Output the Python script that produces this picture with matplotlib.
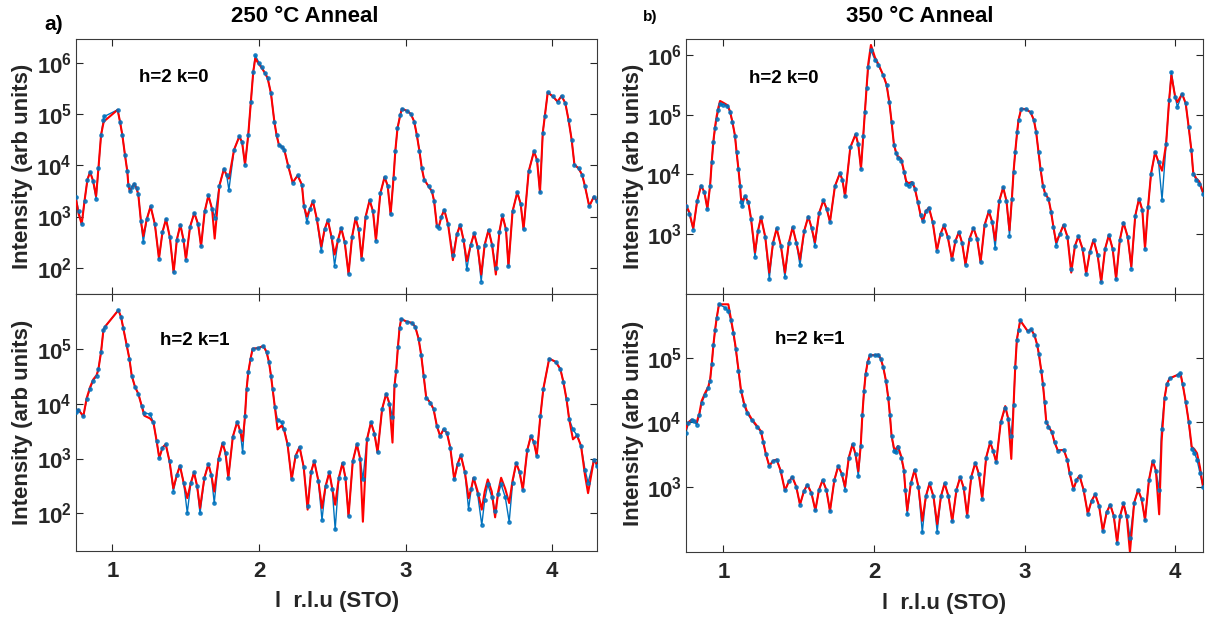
import numpy as np
import matplotlib
matplotlib.use("Agg")
import matplotlib.pyplot as plt
from matplotlib.ticker import FuncFormatter, NullLocator, FixedLocator

plt.rcParams['font.family'] = ['Liberation Sans', 'DejaVu Sans']
plt.rcParams['font.weight'] = 'bold'
plt.rcParams['mathtext.fontset'] = 'custom'
plt.rcParams['mathtext.rm'] = 'Liberation Sans:bold'
plt.rcParams['mathtext.bf'] = 'Liberation Sans:bold'
plt.rcParams['mathtext.it'] = 'Liberation Sans:bold'

# ---------------- data (l in r.l.u, intensity as log10) ----------------
# Panel a) 250 C anneal, h=2 k=0
l_250_k0 = [0.752, 0.770, 0.791, 0.810, 0.830, 0.848, 0.868, 0.889, 0.905, 0.923, 0.939, 0.945,
            1.036, 1.052, 1.068, 1.086, 1.102, 1.109, 1.120, 1.135, 1.150, 1.165, 1.177, 1.195,
            1.211, 1.235, 1.261, 1.290, 1.318, 1.342, 1.366, 1.392, 1.418, 1.440, 1.464, 1.485,
            1.502, 1.530, 1.559, 1.585, 1.605, 1.630, 1.655, 1.680, 1.698, 1.730, 1.761, 1.780,
            1.795, 1.830, 1.866, 1.885, 1.905, 1.927, 1.945, 1.961, 1.975, 2.000, 2.018, 2.040,
            2.059, 2.082, 2.105, 2.120, 2.136, 2.160, 2.173, 2.200, 2.230, 2.264, 2.293, 2.307,
            2.327, 2.348, 2.368, 2.395, 2.425, 2.448, 2.470, 2.495, 2.516, 2.540, 2.561, 2.585,
            2.611, 2.635, 2.659, 2.680, 2.700, 2.728, 2.755, 2.778, 2.798, 2.828, 2.857, 2.878,
            2.898, 2.918, 2.930, 2.945, 2.964, 2.975, 3.009, 3.036, 3.059, 3.077, 3.095, 3.111,
            3.127, 3.157, 3.180, 3.195, 3.214, 3.225, 3.245, 3.264, 3.290, 3.323, 3.350, 3.373,
            3.395, 3.418, 3.445, 3.468, 3.492, 3.516, 3.540, 3.566, 3.590, 3.616, 3.640, 3.661,
            3.685, 3.702, 3.730, 3.762, 3.785, 3.805, 3.840, 3.876, 3.897, 3.917, 3.936, 3.950,
            3.970, 4.005, 4.037, 4.064, 4.090, 4.112, 4.133, 4.152, 4.180, 4.205, 4.224, 4.253,
            4.285, 4.305]
data_250_k0 = [3.38, 3.10, 2.86, 3.30, 3.72, 3.87, 3.70, 3.34, 3.94, 4.59, 4.88, 4.95,
               5.08, 4.85, 4.59, 4.20, 3.88, 3.62, 3.49, 3.58, 3.64, 3.55, 3.43, 2.91,
               2.50, 2.95, 3.20, 2.85, 2.18, 2.70, 2.95, 2.60, 1.91, 2.55, 2.84, 2.55,
               2.16, 2.80, 3.07, 2.85, 2.42, 3.10, 3.41, 3.15, 2.98, 3.60, 3.93, 3.80,
               3.52, 4.30, 4.56, 4.45, 4.01, 4.59, 5.24, 5.82, 6.14, 6.00, 5.92, 5.80,
               5.70, 5.40, 4.85, 4.59, 4.40, 4.35, 4.30, 3.98, 3.66, 3.80, 3.62, 3.20,
               2.89, 3.15, 3.30, 2.95, 2.32, 2.75, 2.93, 2.60, 2.04, 2.55, 2.78, 2.50,
               1.88, 2.60, 2.97, 2.75, 2.18, 3.00, 3.32, 3.10, 2.53, 3.45, 3.77, 3.60,
               3.04, 3.75, 4.27, 4.72, 4.98, 5.10, 5.06, 5.00, 4.85, 4.59, 4.27, 3.94,
               3.72, 3.59, 3.49, 3.30, 2.81, 2.78, 3.00, 3.13, 2.85, 2.25, 2.65, 2.84,
               2.55, 1.97, 2.45, 2.67, 2.40, 1.73, 2.45, 2.74, 2.45, 2.00, 2.70, 3.02,
               2.75, 2.03, 3.10, 3.47, 3.25, 2.75, 3.88, 4.27, 4.10, 3.47, 4.63, 4.95,
               5.42, 5.34, 5.24, 5.35, 5.21, 4.88, 4.50, 4.01, 3.94, 3.81, 3.59, 3.20,
               3.39, 3.30]
fit_250_k0 = [3.33, 3.05, 2.85, 3.30, 3.72, 3.87, 3.70, 3.40, 3.94, 4.59, 4.82, 4.86,
              5.08, 4.85, 4.59, 4.20, 3.88, 3.62, 3.49, 3.58, 3.64, 3.55, 3.43, 2.91,
              2.62, 2.95, 3.20, 2.85, 2.18, 2.70, 2.95, 2.60, 1.91, 2.55, 2.84, 2.55,
              2.16, 2.80, 3.07, 2.85, 2.42, 3.10, 3.41, 3.15, 2.57, 3.60, 3.93, 3.80,
              3.74, 4.30, 4.56, 4.45, 4.01, 4.59, 5.24, 5.82, 6.08, 5.97, 5.90, 5.80,
              5.70, 5.40, 4.85, 4.59, 4.40, 4.35, 4.30, 3.98, 3.66, 3.80, 3.62, 3.20,
              3.00, 3.15, 3.30, 2.95, 2.42, 2.75, 2.93, 2.60, 2.26, 2.55, 2.78, 2.50,
              1.88, 2.60, 2.97, 2.75, 2.18, 3.00, 3.32, 3.10, 2.53, 3.45, 3.77, 3.60,
              3.04, 3.75, 4.27, 4.72, 4.98, 5.10, 5.06, 5.00, 4.85, 4.59, 4.27, 3.94,
              3.72, 3.59, 3.49, 3.30, 2.81, 2.78, 3.00, 3.13, 2.85, 2.15, 2.65, 2.84,
              2.55, 2.13, 2.45, 2.67, 2.40, 1.87, 2.45, 2.74, 2.45, 1.87, 2.70, 3.02,
              2.75, 2.03, 3.10, 3.47, 3.25, 2.75, 3.88, 4.27, 4.10, 3.47, 4.63, 4.95,
              5.42, 5.34, 5.24, 5.35, 5.21, 4.88, 4.50, 4.01, 3.94, 3.81, 3.59, 3.20,
              3.39, 3.30]

# Panel a) lower: 250 C anneal, h=2 k=1
l_250_k1 = [0.752, 0.768, 0.802, 0.825, 0.848, 0.870, 0.893, 0.905, 0.923, 0.939, 0.950,
            1.041, 1.059, 1.075, 1.098, 1.116, 1.132, 1.155, 1.177, 1.200, 1.218, 1.257,
            1.280, 1.302, 1.320, 1.342, 1.364, 1.390, 1.416, 1.440, 1.461, 1.487, 1.511,
            1.535, 1.557, 1.578, 1.598, 1.628, 1.655, 1.675, 1.695, 1.725, 1.752, 1.772,
            1.791, 1.822, 1.852, 1.872, 1.889, 1.905, 1.916, 1.927, 1.943, 1.957, 1.995,
            2.030, 2.052, 2.068, 2.082, 2.093, 2.109, 2.127, 2.155, 2.173, 2.195, 2.223,
            2.250, 2.277, 2.305, 2.332, 2.355, 2.377, 2.405, 2.430, 2.455, 2.480, 2.500,
            2.520, 2.545, 2.570, 2.590, 2.611, 2.640, 2.668, 2.690, 2.709, 2.737, 2.764,
            2.788, 2.809, 2.840, 2.868, 2.890, 2.911, 2.925, 2.936, 2.948, 2.959, 2.970,
            3.009, 3.043, 3.066, 3.089, 3.107, 3.123, 3.141, 3.168, 3.191, 3.214, 3.236,
            3.259, 3.282, 3.305, 3.332, 3.355, 3.377, 3.405, 3.430, 3.448, 3.464, 3.492,
            3.520, 3.540, 3.561, 3.588, 3.611, 3.632, 3.652, 3.680, 3.707, 3.730, 3.755,
            3.778, 3.800, 3.830, 3.855, 3.875, 3.895, 3.920, 3.940, 3.980, 4.024, 4.056,
            4.077, 4.098, 4.116, 4.142, 4.170, 4.197, 4.224, 4.245, 4.285, 4.305]
data_250_k1 = [3.85, 3.89, 3.77, 4.08, 4.27, 4.42, 4.50, 4.63, 4.94, 5.34, 5.40,
               5.70, 5.58, 5.37, 5.06, 4.82, 4.51, 4.30, 4.18, 3.96, 3.83, 3.81,
               3.66, 3.32, 3.01, 3.20, 3.26, 2.95, 2.40, 2.70, 2.87, 2.55, 2.01,
               2.55, 2.75, 2.50, 2.00, 2.65, 2.90, 2.70, 2.19, 3.00, 3.28, 3.10,
               2.65, 3.40, 3.67, 3.50, 3.11, 3.78, 4.27, 4.57, 4.82, 5.00, 5.01,
               5.05, 4.94, 4.76, 4.51, 4.27, 3.93, 3.70, 3.66, 3.53, 3.26, 2.62,
               3.05, 3.21, 2.85, 2.13, 2.75, 2.95, 2.60, 1.88, 2.50, 2.75, 2.45,
               1.71, 2.65, 2.92, 2.65, 1.95, 2.95, 3.26, 3.00, 2.62, 3.35, 3.66,
               3.45, 3.11, 3.90, 4.18, 4.00, 3.75, 4.33, 4.60, 5.03, 5.37, 5.54,
               5.49, 5.47, 5.40, 5.18, 4.88, 4.51, 4.11, 4.02, 3.90, 3.59, 3.41,
               3.53, 3.47, 3.20, 2.62, 2.90, 3.06, 2.75, 2.08, 2.45, 2.65, 2.35,
               1.79, 2.25, 2.53, 2.30, 2.04, 2.35, 2.53, 2.30, 1.85, 2.55, 2.92,
               2.75, 2.43, 3.15, 3.41, 3.30, 3.05, 3.78, 4.27, 4.82, 4.76, 4.63,
               4.39, 4.08, 3.72, 3.53, 3.42, 3.23, 2.80, 2.56, 2.98, 2.86]
fit_250_k1 = [3.85, 3.89, 3.77, 4.10, 4.30, 4.44, 4.52, 4.63, 4.94, 5.34, 5.40,
              5.70, 5.58, 5.37, 5.06, 4.82, 4.51, 4.30, 4.18, 3.96, 3.78, 3.73,
              3.66, 3.32, 3.01, 3.20, 3.26, 2.95, 2.46, 2.70, 2.87, 2.55, 2.28,
              2.55, 2.75, 2.50, 2.10, 2.65, 2.90, 2.70, 2.40, 3.00, 3.28, 3.10,
              2.65, 3.40, 3.67, 3.50, 3.32, 3.78, 4.27, 4.57, 4.82, 5.00, 5.01,
              5.05, 4.94, 4.76, 4.51, 4.27, 3.93, 3.53, 3.60, 3.50, 3.26, 2.62,
              3.05, 3.21, 2.85, 2.07, 2.75, 2.95, 2.60, 2.10, 2.50, 2.75, 2.45,
              2.16, 2.65, 2.92, 2.65, 1.95, 2.95, 3.26, 3.00, 1.85, 3.35, 3.66,
              3.45, 3.11, 3.90, 4.18, 4.00, 3.29, 4.33, 4.60, 5.03, 5.37, 5.54,
              5.49, 5.47, 5.40, 5.18, 4.88, 4.51, 4.11, 4.02, 3.90, 3.59, 3.41,
              3.53, 3.47, 3.20, 2.62, 2.90, 3.06, 2.75, 2.28, 2.45, 2.65, 2.40,
              2.07, 2.40, 2.62, 2.40, 1.93, 2.40, 2.65, 2.45, 2.19, 2.60, 2.92,
              2.75, 2.43, 3.15, 3.41, 3.30, 3.05, 3.78, 4.27, 4.82, 4.76, 4.63,
              4.39, 4.08, 3.72, 3.35, 3.42, 3.23, 2.70, 2.37, 2.98, 2.90]

# Panel b) 350 C anneal, h=2 k=0
l_350_k0 = [0.752, 0.774, 0.800, 0.826, 0.852, 0.874, 0.894, 0.912, 0.923, 0.934, 0.945,
            0.956, 0.967, 0.978, 1.000, 1.027, 1.044, 1.060, 1.077, 1.088, 1.100, 1.111,
            1.117, 1.126, 1.144, 1.166, 1.184, 1.210, 1.230, 1.250, 1.278, 1.305, 1.330,
            1.354, 1.382, 1.409, 1.435, 1.460, 1.485, 1.509, 1.537, 1.564, 1.586, 1.608,
            1.636, 1.664, 1.686, 1.708, 1.741, 1.774, 1.791, 1.808, 1.843, 1.878, 1.896,
            1.914, 1.929, 1.940, 1.951, 1.962, 1.980, 2.007, 2.029, 2.062, 2.084, 2.102,
            2.117, 2.133, 2.146, 2.159, 2.181, 2.199, 2.215, 2.230, 2.252, 2.270, 2.292,
            2.310, 2.325, 2.345, 2.365, 2.390, 2.418, 2.442, 2.465, 2.490, 2.518, 2.541,
            2.564, 2.585, 2.608, 2.635, 2.661, 2.685, 2.708, 2.735, 2.763, 2.785, 2.805,
            2.832, 2.858, 2.880, 2.900, 2.916, 2.927, 2.938, 2.951, 2.960, 2.978, 3.011,
            3.040, 3.062, 3.077, 3.093, 3.106, 3.122, 3.137, 3.159, 3.177, 3.192, 3.210,
            3.235, 3.259, 3.285, 3.310, 3.335, 3.358, 3.385, 3.409, 3.434, 3.458, 3.485,
            3.509, 3.535, 3.560, 3.585, 3.608, 3.633, 3.657, 3.685, 3.709, 3.735, 3.760,
            3.782, 3.800, 3.820, 3.840, 3.867, 3.890, 3.913, 3.940, 3.960, 3.975, 4.000,
            4.015, 4.046, 4.070, 4.090, 4.108, 4.120, 4.140, 4.160, 4.185]
data_350_k0 = [3.46, 3.34, 3.07, 3.55, 3.81, 3.70, 3.42, 3.81, 4.21, 4.54, 4.77,
               4.93, 5.07, 5.18, 5.17, 5.14, 5.05, 4.88, 4.65, 4.37, 4.09, 3.81,
               3.53, 3.46, 3.63, 3.53, 3.25, 2.61, 3.05, 3.28, 2.95, 2.24, 2.85,
               3.09, 2.80, 2.27, 2.85, 3.11, 2.85, 2.47, 3.05, 3.29, 3.10, 2.79,
               3.35, 3.56, 3.42, 3.20, 3.80, 4.02, 3.90, 3.63, 4.45, 4.67, 4.50,
               4.09, 4.65, 5.05, 5.44, 5.80, 6.08, 5.92, 5.83, 5.66, 5.50, 5.21,
               4.88, 4.49, 4.35, 4.27, 4.23, 4.04, 3.84, 3.80, 3.85, 3.76, 3.53,
               3.31, 3.21, 3.38, 3.44, 3.20, 2.72, 3.00, 3.14, 2.95, 2.57, 2.88,
               3.03, 2.85, 2.48, 2.92, 3.10, 2.92, 2.52, 3.15, 3.38, 3.20, 2.76,
               3.55, 3.78, 3.55, 2.97, 3.59, 4.04, 4.37, 4.71, 4.91, 5.10, 5.09,
               5.04, 4.91, 4.71, 4.37, 4.09, 3.81, 3.67, 3.59, 3.36, 3.11, 2.80,
               3.00, 3.15, 2.95, 2.41, 2.80, 2.96, 2.75, 2.33, 2.70, 2.90, 2.65,
               2.19, 2.75, 2.98, 2.75, 2.24, 2.90, 3.19, 2.95, 2.41, 3.30, 3.59,
               3.40, 2.75, 3.45, 4.01, 4.37, 4.20, 3.57, 4.51, 5.24, 5.72, 5.30,
               5.13, 5.35, 5.19, 4.79, 4.40, 4.01, 3.90, 3.84, 3.67]
fit_350_k0 = [3.49, 3.36, 3.09, 3.55, 3.81, 3.70, 3.42, 3.81, 4.21, 4.56, 4.80,
              4.98, 5.12, 5.23, 5.20, 5.16, 5.06, 4.88, 4.65, 4.37, 4.09, 3.81,
              3.60, 3.55, 3.63, 3.53, 3.25, 2.69, 3.05, 3.28, 2.95, 2.35, 2.85,
              3.09, 2.80, 2.35, 2.85, 3.11, 2.85, 2.57, 3.05, 3.29, 3.10, 2.86,
              3.35, 3.56, 3.42, 3.20, 3.80, 4.02, 3.90, 3.63, 4.45, 4.67, 4.50,
              4.09, 4.65, 5.05, 5.44, 5.85, 6.17, 5.96, 5.85, 5.66, 5.50, 5.21,
              4.88, 4.49, 4.38, 4.30, 4.26, 4.06, 3.88, 3.85, 3.87, 3.78, 3.53,
              3.31, 3.21, 3.38, 3.44, 3.20, 2.72, 3.00, 3.14, 2.95, 2.57, 2.88,
              3.03, 2.85, 2.48, 2.92, 3.10, 2.92, 2.52, 3.15, 3.38, 3.20, 2.89,
              3.55, 3.78, 3.55, 3.06, 3.59, 4.04, 4.37, 4.71, 4.91, 5.10, 5.09,
              5.04, 4.91, 4.71, 4.37, 4.09, 3.81, 3.67, 3.59, 3.36, 3.11, 2.86,
              3.00, 3.15, 2.95, 2.35, 2.80, 2.96, 2.75, 2.33, 2.70, 2.90, 2.65,
              2.19, 2.75, 2.98, 2.75, 2.24, 2.90, 3.19, 2.95, 2.45, 3.30, 3.59,
              3.40, 2.75, 3.45, 4.01, 4.37, 4.20, 4.06, 4.51, 5.24, 5.66, 5.30,
              5.21, 5.35, 5.19, 4.79, 4.40, 4.03, 3.93, 3.88, 3.70]

# Panel b) lower: 350 C anneal, h=2 k=1
l_350_k1 = [0.752, 0.768, 0.790, 0.805, 0.823, 0.841, 0.856, 0.878, 0.900, 0.912, 0.923,
            0.934, 0.945, 0.956, 0.971, 1.011, 1.033, 1.049, 1.066, 1.082, 1.100, 1.117,
            1.137, 1.155, 1.188, 1.221, 1.250, 1.265, 1.283, 1.305, 1.330, 1.354, 1.380,
            1.409, 1.435, 1.458, 1.484, 1.509, 1.535, 1.558, 1.585, 1.611, 1.635, 1.659,
            1.684, 1.708, 1.737, 1.763, 1.786, 1.808, 1.833, 1.858, 1.878, 1.896, 1.912,
            1.923, 1.934, 1.945, 1.958, 1.973, 2.007, 2.029, 2.046, 2.062, 2.080, 2.095,
            2.106, 2.117, 2.133, 2.146, 2.159, 2.181, 2.199, 2.208, 2.221, 2.245, 2.270,
            2.295, 2.321, 2.345, 2.369, 2.395, 2.420, 2.445, 2.469, 2.495, 2.520, 2.548,
            2.573, 2.596, 2.619, 2.646, 2.673, 2.696, 2.719, 2.745, 2.772, 2.792, 2.812,
            2.842, 2.872, 2.892, 2.912, 2.927, 2.938, 2.949, 2.960, 2.971, 3.022, 3.044,
            3.066, 3.084, 3.095, 3.111, 3.122, 3.133, 3.144, 3.159, 3.181, 3.199, 3.221,
            3.261, 3.283, 3.299, 3.325, 3.345, 3.365, 3.392, 3.420, 3.445, 3.469, 3.495,
            3.520, 3.545, 3.569, 3.592, 3.615, 3.635, 3.657, 3.680, 3.700, 3.728, 3.754,
            3.778, 3.800, 3.826, 3.851, 3.872, 3.894, 3.910, 3.930, 3.945, 3.963, 4.022,
            4.035, 4.050, 4.070, 4.090, 4.110, 4.128, 4.145, 4.165, 4.185]
data_350_k1 = [3.84, 3.98, 4.03, 4.02, 3.96, 4.11, 4.30, 4.42, 4.53, 4.64, 4.90,
               5.20, 5.43, 5.62, 5.83, 5.78, 5.72, 5.59, 5.38, 5.14, 4.80, 4.48,
               4.27, 4.15, 4.03, 3.93, 3.85, 3.69, 3.50, 3.32, 3.40, 3.42, 3.25,
               2.94, 3.08, 3.15, 3.00, 2.72, 2.93, 3.03, 2.90, 2.63, 2.95, 3.10,
               2.95, 2.62, 3.10, 3.32, 3.20, 2.95, 3.45, 3.66, 3.50, 3.16, 3.63,
               4.11, 4.48, 4.75, 4.93, 5.04, 5.04, 5.05, 4.98, 4.85, 4.64, 4.38,
               4.11, 3.79, 3.56, 3.53, 3.61, 3.45, 3.24, 2.95, 2.57, 3.05, 3.26,
               3.00, 2.29, 2.85, 3.05, 2.85, 2.30, 2.85, 3.05, 2.85, 2.46, 2.95,
               3.15, 2.98, 2.55, 3.15, 3.37, 3.20, 2.81, 3.45, 3.69, 3.55, 3.38,
               4.00, 4.22, 4.05, 3.79, 4.27, 4.85, 5.28, 5.43, 5.58, 5.41, 5.44,
               5.35, 5.20, 5.06, 4.80, 4.59, 4.32, 4.01, 3.93, 3.85, 3.69, 3.56,
               3.57, 3.42, 3.21, 2.96, 3.10, 3.17, 2.95, 2.58, 2.78, 2.88, 2.70,
               2.31, 2.60, 2.72, 2.55, 2.13, 2.55, 2.74, 2.55, 2.20, 2.75, 2.95,
               2.80, 2.48, 3.10, 3.40, 3.25, 2.95, 3.90, 4.38, 4.59, 4.68, 4.74,
               4.76, 4.59, 4.32, 4.01, 3.58, 3.52, 3.42, 3.21, 3.00]
fit_350_k1 = [3.90, 4.00, 4.04, 4.02, 4.00, 4.14, 4.33, 4.45, 4.55, 4.66, 4.90,
              5.20, 5.43, 5.62, 5.83, 5.83, 5.83, 5.62, 5.40, 5.16, 4.82, 4.50,
              4.30, 4.18, 4.05, 3.95, 3.86, 3.69, 3.50, 3.32, 3.40, 3.42, 3.25,
              2.94, 3.08, 3.15, 3.00, 2.72, 2.93, 3.03, 2.90, 2.63, 2.95, 3.10,
              2.95, 2.62, 3.10, 3.32, 3.20, 3.00, 3.45, 3.66, 3.50, 3.24, 3.63,
              4.11, 4.48, 4.75, 4.93, 5.04, 5.04, 5.05, 4.98, 4.85, 4.64, 4.38,
              4.11, 3.79, 3.60, 3.58, 3.63, 3.47, 3.26, 2.97, 2.63, 3.05, 3.26,
              3.00, 2.47, 2.85, 3.05, 2.85, 2.42, 2.85, 3.05, 2.85, 2.46, 2.95,
              3.15, 2.98, 2.55, 3.15, 3.37, 3.20, 2.81, 3.45, 3.69, 3.55, 3.38,
              4.00, 4.25, 4.05, 3.43, 4.27, 4.85, 5.28, 5.43, 5.58, 5.41, 5.44,
              5.35, 5.20, 5.06, 4.80, 4.59, 4.32, 4.01, 3.93, 3.85, 3.69, 3.56,
              3.57, 3.42, 3.21, 2.96, 3.10, 3.17, 2.95, 2.58, 2.78, 2.88, 2.70,
              2.31, 2.60, 2.72, 2.55, 2.13, 2.55, 2.74, 2.50, 1.98, 2.75, 2.95,
              2.80, 2.48, 3.10, 3.40, 3.25, 2.57, 3.70, 4.38, 4.59, 4.68, 4.74,
              4.76, 4.59, 4.32, 4.01, 3.62, 3.58, 3.52, 3.30, 3.00]

annotations = ["h=2 k=0", "h=2 k=1"]
titles = ["250 \u00b0C Anneal", "350 \u00b0C Anneal"]
ylabel = "Intensity (arb units)"
xlabel = "l  r.l.u (STO)"
xticks = [1, 2, 3, 4]

# ---------------- figure ----------------
W, H = 1206, 618
fig = plt.figure(figsize=(W / 100, H / 100), dpi=100)

def px_axes(x0, y0, x1, y1):
    return fig.add_axes([x0 / W, 1 - y1 / H, (x1 - x0) / W, (y1 - y0) / H])

BLUE = '#0072BD'
RED = '#FF0000'
TXT = '#262626'

panels = [
    # (axes px box, l, data, fit, xlim, ylim(log), y decades shown, annotation pos, annotation, show xticklabels)
    ((76, 39, 597, 294), l_250_k0, data_250_k0, fit_250_k0, (0.752, 4.306), (1.49, 6.46),
     [1e2, 1e3, 1e4, 1e5, 1e6], (1.416, 5.70), annotations[0], False),
    ((76, 294, 597, 551), l_250_k1, data_250_k1, fit_250_k1, (0.752, 4.306), (1.317, 5.995),
     [1e2, 1e3, 1e4, 1e5], (1.563, 5.15), annotations[1], True),
    ((686, 39, 1203, 294), l_350_k0, data_350_k0, fit_350_k0, (0.752, 4.185), (1.99, 6.27),
     [1e3, 1e4, 1e5, 1e6], (1.398, 5.61), annotations[0], False),
    ((686, 294, 1203, 552), l_350_k1, data_350_k1, fit_350_k1, (0.752, 4.185), (1.985, 5.99),
     [1e3, 1e4, 1e5], (1.575, 5.28), annotations[1], True),
]

fmt = FuncFormatter(lambda v, p: r'$\mathbf{10^{%d}}$' % int(round(np.log10(v))))

for box, lv, dv, fv, xl, yl, yt, apos, atext, showx in panels:
    ax = px_axes(*box)
    lv = np.asarray(lv)
    dI = 10.0 ** np.asarray(dv)
    fI = 10.0 ** np.asarray(fv)
    ax.plot(lv, dI, color=BLUE, lw=1.0, zorder=2)
    ax.plot(lv, fI, color=RED, lw=1.5, zorder=3, solid_joinstyle='round')
    ax.plot(lv, dI, ls='none', marker='o', ms=2.4, mfc=BLUE, mec=BLUE, alpha=0.8, zorder=4)
    ax.set_yscale('log')
    ax.set_xlim(*xl)
    ax.set_ylim(10 ** yl[0], 10 ** yl[1])
    ax.yaxis.set_major_locator(FixedLocator(yt))
    ax.yaxis.set_minor_locator(NullLocator())
    ax.yaxis.set_major_formatter(fmt)
    ax.xaxis.set_major_locator(FixedLocator(xticks))
    ax.tick_params(direction='in', top=True, right=True, length=5, width=0.8,
                   color=TXT, labelcolor=TXT, labelsize=16)
    ax.tick_params(axis='x', pad=7)
    ax.tick_params(axis='y', pad=3)
    if not showx:
        ax.set_xticklabels([])
    else:
        for t in ax.get_xticklabels():
            t.set_fontweight('bold')
    for s in ax.spines.values():
        s.set_color('#3a3a3a')
        s.set_linewidth(0.8)
    ax.text(apos[0], 10 ** apos[1], atext, ha='center', va='center',
            fontsize=13.5, fontweight='bold', color='black')
    cx = (box[0] - 53) / W
    cy = 1 - ((box[1] + box[3]) / 2) / H
    fig.text(cx, cy, ylabel, rotation=90, ha='center', va='center',
             fontsize=16, fontweight='bold', color=TXT)

# x labels
fig.text(337 / W, 1 - 602 / H, xlabel, ha='center', va='center', fontsize=16, fontweight='bold', color=TXT)
fig.text(944 / W, 1 - 603 / H, xlabel, ha='center', va='center', fontsize=16, fontweight='bold', color=TXT)
# titles
fig.text(305 / W, 1 - 17 / H, titles[0], ha='center', va='center', fontsize=16, fontweight='bold', color='black')
fig.text(920 / W, 1 - 17 / H, titles[1], ha='center', va='center', fontsize=16, fontweight='bold', color='black')
# panel letters
fig.text(54 / W, 1 - 25 / H, 'a)', ha='center', va='center', fontsize=15, fontweight='bold', color='black')
fig.text(650 / W, 1 - 17 / H, 'b)', ha='center', va='center', fontsize=11, fontweight='bold', color='black')

fig.savefig('out.png', dpi=100)
